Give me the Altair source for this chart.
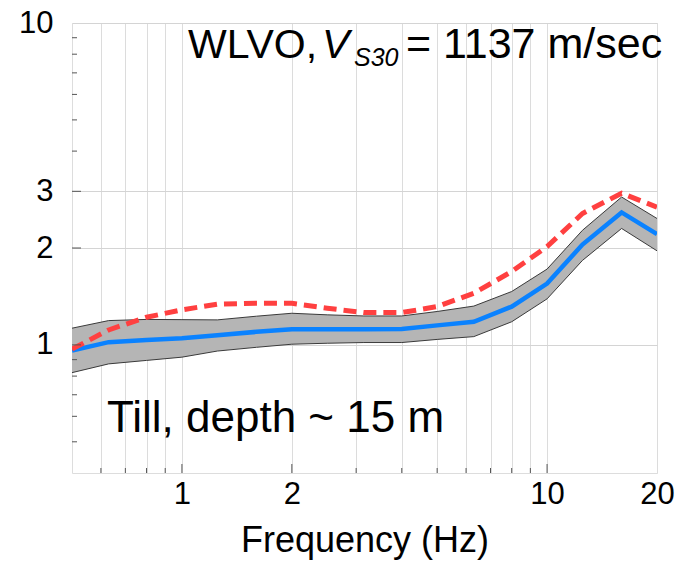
import altair as alt
import pandas as pd

# ---- data ----
freq = [0.5, 0.63, 0.8, 1.0, 1.25, 1.6, 2.0, 2.5, 3.15, 4.0, 5.0, 6.3, 8.0, 10.0, 12.5, 16.0, 20.0]
mean_amp = [0.96, 1.02, 1.035, 1.049, 1.072, 1.098, 1.119, 1.119, 1.119, 1.12, 1.15, 1.18, 1.315, 1.55, 2.05, 2.58, 2.21]
upper_amp = [1.127, 1.19, 1.20, 1.198, 1.196, 1.228, 1.254, 1.24, 1.23, 1.23, 1.27, 1.32, 1.465, 1.72, 2.27, 2.88, 2.47]
lower_amp = [0.82, 0.873, 0.895, 0.916, 0.957, 0.983, 1.005, 1.012, 1.017, 1.017, 1.04, 1.061, 1.18, 1.39, 1.83, 2.30, 1.96]
red_amp = [0.97, 1.113, 1.219, 1.285, 1.338, 1.347, 1.347, 1.30, 1.26, 1.26, 1.315, 1.447, 1.69, 2.02, 2.56, 2.96, 2.68]

x_grid_values = [0.6, 0.7, 0.8, 0.9, 1, 2, 3, 4, 5, 6, 7, 8, 9, 10, 20]
x_labelled = [1, 2, 10, 20]
x_major_ticks = [1, 2, 10]
x_minor_ticks = [0.6, 0.7, 0.8, 0.9, 3, 4, 5, 6, 7, 8, 9]
y_label_values = [1, 2, 3, 10]
y_major_ticks = [1, 2, 3]
y_minor_ticks = [0.5, 0.6, 0.7, 0.8, 0.9, 4, 5, 6, 7, 8, 9]

x_title = "Frequency (Hz)"
site_text = ["WLVO,", "V", "S30", "= 1137 m/sec"]
geo_text = "Till, depth ~ 15 m"

W, H = 585, 450
FONT = "Liberation Sans"

df = pd.DataFrame({"f": freq, "m": mean_amp, "hi": upper_amp, "lo": lower_amp, "r": red_amp})

xs = alt.Scale(type="log", domain=[0.5, 20], nice=False)
ys = alt.Scale(type="log", domain=[0.4, 10], nice=False)

x_axis = alt.Axis(
    values=x_grid_values,
    labelExpr="indexof([1,2,10,20], datum.value) >= 0 ? format(datum.value, 'd') : ''",
    grid=True, gridColor="#dcdcdc", gridWidth=1,
    ticks=False, domain=False, labelFlush=False,
    labelFont=FONT, labelFontSize=31, labelColor="black", labelPadding=6,
    title=x_title, titleFont=FONT, titleFontSize=36, titleFontWeight="normal",
    titleColor="black", titlePadding=14,
)
y_axis = alt.Axis(
    values=y_label_values, format="d",
    grid=True, gridColor="#d4d4d4", gridWidth=1,
    ticks=False, domain=False, labelFlush=False,
    labelFont=FONT, labelFontSize=31, labelColor="black", labelPadding=19,
    title=None,
)

X = lambda field: alt.X(f"{field}:Q", scale=xs, axis=x_axis)
Y = lambda field: alt.Y(f"{field}:Q", scale=ys, axis=y_axis)

base = alt.Chart(df)

band = base.mark_area(color="#b5b5b5", opacity=1, clip=True).encode(
    x=X("f"), y=Y("lo"), y2="hi:Q"
)
band_hi = base.mark_line(color="#3a3a3a", strokeWidth=1, clip=True).encode(x=X("f"), y=Y("hi"))
band_lo = base.mark_line(color="#3a3a3a", strokeWidth=1, clip=True).encode(x=X("f"), y=Y("lo"))
mean_line = base.mark_line(color="#0a82ff", strokeWidth=4.5, clip=True).encode(x=X("f"), y=Y("m"))
red_line = base.mark_line(color="#ff4040", strokeWidth=5, strokeDash=[13, 7], clip=True).encode(
    x=X("f"), y=Y("r")
)

xmaj = alt.Chart(pd.DataFrame({"f": x_major_ticks})).mark_rule(color="#555", strokeWidth=1).encode(
    x=X("f"), y=alt.value(H), y2=alt.value(H - 9)
)
xmin = alt.Chart(pd.DataFrame({"f": x_minor_ticks})).mark_rule(color="#555", strokeWidth=1).encode(
    x=X("f"), y=alt.value(H), y2=alt.value(H - 5)
)
ymaj = alt.Chart(pd.DataFrame({"v": y_major_ticks})).mark_rule(color="#555", strokeWidth=1).encode(
    y=Y("v"), x=alt.value(0), x2=alt.value(9)
)
ymin = alt.Chart(pd.DataFrame({"v": y_minor_ticks})).mark_rule(color="#555", strokeWidth=1).encode(
    y=Y("v"), x=alt.value(0), x2=alt.value(5)
)

def txt(s, x, y, size, style="normal"):
    return alt.Chart(pd.DataFrame({"t": [s]})).mark_text(
        align="left", baseline="alphabetic", font=FONT, fontSize=size,
        fontStyle=style, color="black"
    ).encode(text="t:N", x=alt.value(x), y=alt.value(y))

t1 = txt(site_text[0], 116, 35, 41)
t2 = txt(site_text[1], 250, 35, 41, "italic")
t3 = txt(site_text[2], 282, 43, 25, "italic")
t4 = txt(site_text[3], 334, 35, 43)
t5 = txt(geo_text, 35, 409, 44)

chart = alt.layer(
    band, band_hi, band_lo, mean_line, red_line, xmaj, xmin, ymaj, ymin, t1, t2, t3, t4, t5
).properties(
    width=W, height=H,
    autosize=alt.AutoSizeParams(type="none"),
    padding={"left": 72, "top": 23, "right": 22, "bottom": 92},
).configure_view(stroke="#707070", strokeWidth=1.5).configure(background="white")

chart.save("out.html", embed_options={"renderer": "svg", "actions": False})
